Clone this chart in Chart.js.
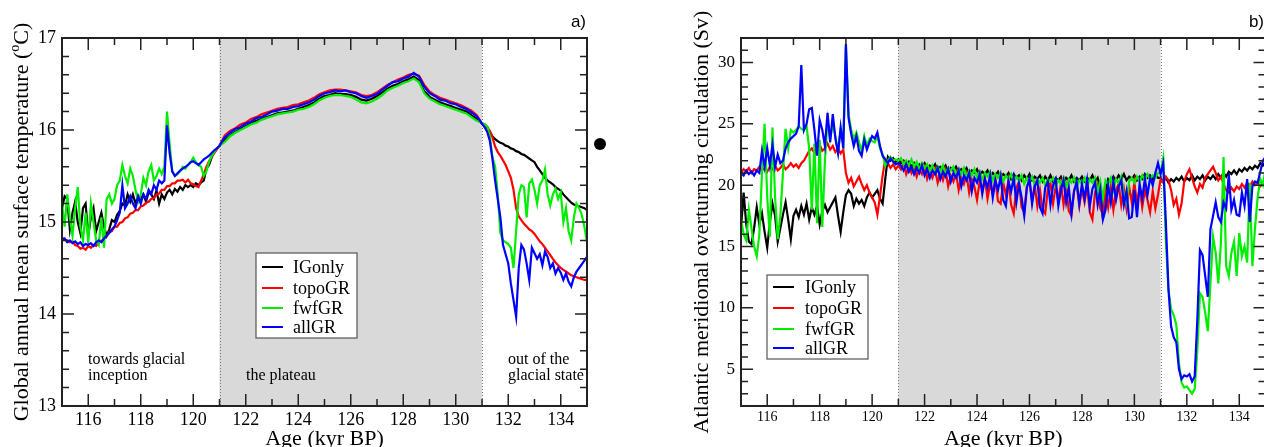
<!DOCTYPE html>
<html>
<head>
<meta charset="utf-8">
<script src="https://cdn.jsdelivr.net/npm/chart.js@4.4.1/dist/chart.umd.min.js"></script>
<style>
  html, body { margin: 0; padding: 0; background: #fff; width: 1264px; height: 447px; overflow: hidden; }
  canvas { position: absolute; top: 0; }
  #temp { left: 0; }
  #amoc { left: 640px; }
</style>
</head>
<body>
<canvas id="temp" width="640" height="447"></canvas>
<canvas id="amoc" width="640" height="447"></canvas>
<script>
const range = (a, b, s) => {
  const n = Math.round((b - a) / s);
  return Array.from({ length: n + 1 }, (_, i) => +(a + i * s).toFixed(2));
};

// ---- panel a) global annual mean surface temperature (degC) ----
// ages: 115-121 every 0.1, 121.2-130.8 every 0.2, 131-135 every 0.1
const tempAge = [...range(115, 121, 0.1), ...range(121.2, 130.8, 0.2), ...range(131, 135, 0.1)];

const tempIGonlyEarly = [
  15.15, 15.28, 15.25, 14.92, 15.1, 15.22, 15.0, 14.88, 15.15, 15.2,
  14.85, 15.05, 15.15, 14.9, 15.0, 15.1, 14.95, 14.85, 14.92, 15.02,
  15.0, 15.08, 15.12, 15.2, 15.18, 15.3, 15.22, 15.3, 15.2, 15.28,
  15.25, 15.3, 15.22, 15.32, 15.3, 15.25, 15.34, 15.2, 15.3, 15.25,
  15.32, 15.35, 15.3, 15.36, 15.33, 15.38, 15.35, 15.4, 15.38, 15.4,
  15.38, 15.42, 15.4, 15.43, 15.45, 15.58, 15.62, 15.7, 15.76, 15.8,
  15.83];
const tempIGonlyPlateau = [
  15.89, 15.94, 15.98, 16.01, 16.04, 16.07, 16.10, 16.12, 16.14, 16.16,
  16.18, 16.19, 16.20, 16.21, 16.23, 16.25, 16.27, 16.30, 16.34, 16.37,
  16.38, 16.40, 16.39, 16.39, 16.38, 16.36, 16.33, 16.32, 16.34, 16.37,
  16.41, 16.45, 16.48, 16.50, 16.53, 16.55, 16.58, 16.54, 16.42, 16.36,
  16.33, 16.30, 16.28, 16.26, 16.24, 16.22, 16.20, 16.16, 16.12];
const tempIGonlyLate = [
  16.07, 16.06, 16.03, 15.98, 15.93, 15.9, 15.88, 15.86, 15.85, 15.83,
  15.82, 15.8, 15.79, 15.77, 15.76, 15.74, 15.73, 15.71, 15.69, 15.67,
  15.65, 15.6, 15.56, 15.52, 15.48, 15.45, 15.43, 15.41, 15.38, 15.36,
  15.34, 15.3, 15.27, 15.24, 15.21, 15.19, 15.18, 15.17, 15.16, 15.15,
  15.13];

const tempTopoEarly = [
  14.83, 14.81, 14.8, 14.78, 14.79, 14.75, 14.74, 14.71, 14.72, 14.7,
  14.74, 14.72, 14.75, 14.74, 14.78, 14.79, 14.83, 14.84, 14.89, 14.9,
  14.95, 14.95, 14.99, 15.0, 15.04, 15.05, 15.09, 15.1, 15.13, 15.13,
  15.17, 15.18, 15.21, 15.22, 15.25, 15.26, 15.3, 15.31, 15.35, 15.35,
  15.39, 15.39, 15.42, 15.42, 15.45, 15.45, 15.46, 15.43, 15.46, 15.42,
  15.41, 15.39, 15.38, 15.45, 15.52, 15.6, 15.66, 15.71, 15.75, 15.79,
  15.83];
const tempTopoPlateau = [
  15.94, 15.99, 16.02, 16.06, 16.08, 16.12, 16.14, 16.17, 16.19, 16.21,
  16.23, 16.24, 16.25, 16.27, 16.28, 16.30, 16.32, 16.35, 16.39, 16.41,
  16.43, 16.44, 16.44, 16.43, 16.42, 16.41, 16.38, 16.37, 16.38, 16.41,
  16.45, 16.49, 16.52, 16.55, 16.57, 16.60, 16.61, 16.59, 16.49, 16.42,
  16.38, 16.35, 16.33, 16.31, 16.29, 16.27, 16.24, 16.21, 16.16];
const tempTopoLate = [
  16.07, 16.05, 16.02, 15.99, 15.92, 15.82, 15.76, 15.72, 15.67, 15.62,
  15.55, 15.48, 15.35, 15.15, 15.06, 15.02, 14.98, 14.95, 14.92, 14.9,
  14.87, 14.83, 14.79, 14.76, 14.72, 14.68, 14.64, 14.6, 14.56, 14.53,
  14.5, 14.48, 14.46, 14.44, 14.42, 14.41, 14.4, 14.39, 14.38, 14.37,
  14.37];

const tempFwfEarly = [
  15.2, 14.95, 15.3, 15.05, 14.85, 15.15, 15.38, 14.95, 14.8, 15.1,
  14.78, 15.2, 15.0, 14.8, 14.75, 15.05, 14.72, 15.25, 15.3, 15.2,
  15.25, 15.4, 15.45, 15.62, 15.5, 15.42, 15.58, 15.5, 15.35, 15.22,
  15.3, 15.48, 15.4, 15.55, 15.62, 15.45, 15.5, 15.58, 15.52, 15.6,
  16.2, 15.85, 15.55, 15.5, 15.52, 15.55, 15.6, 15.58, 15.62, 15.65,
  15.7, 15.65, 15.62, 15.6, 15.5, 15.55, 15.65, 15.72, 15.76, 15.8,
  15.83];
const tempFwfPlateau = [
  15.87, 15.93, 15.97, 16.00, 16.03, 16.06, 16.08, 16.11, 16.13, 16.15,
  16.17, 16.18, 16.19, 16.20, 16.22, 16.23, 16.25, 16.28, 16.32, 16.35,
  16.37, 16.38, 16.38, 16.37, 16.36, 16.33, 16.30, 16.29, 16.31, 16.34,
  16.38, 16.43, 16.46, 16.48, 16.51, 16.53, 16.56, 16.52, 16.40, 16.34,
  16.31, 16.28, 16.26, 16.24, 16.22, 16.20, 16.18, 16.14, 16.10];
const tempFwfLate = [
  16.08, 16.06, 16.04, 15.93, 15.7, 15.6, 15.3, 14.88, 14.8, 14.78,
  14.76, 14.72, 14.5, 14.9, 15.3, 15.4, 15.38, 15.05, 15.42, 15.46,
  15.35, 15.2, 15.4, 15.45, 15.57, 15.3, 15.18, 15.3, 15.36, 15.25,
  15.32, 15.0, 15.15, 14.9, 14.8, 15.05, 15.2, 15.15, 15.08, 14.95,
  14.78];

const tempAllEarly = [
  14.8, 14.82, 14.78, 14.8, 14.77, 14.79, 14.76, 14.78, 14.74, 14.76,
  14.75, 14.77, 14.74, 14.78, 14.8, 14.78, 14.82, 14.85, 14.88, 14.92,
  14.95, 15.02, 15.1, 15.4, 15.15, 15.2, 15.28, 15.2, 15.15, 15.28,
  15.2, 15.3, 15.25, 15.35, 15.3, 15.4, 15.35, 15.45, 15.42, 15.45,
  16.05, 15.75, 15.55, 15.5, 15.53, 15.56, 15.58, 15.6, 15.62, 15.65,
  15.66, 15.64, 15.62, 15.65, 15.68, 15.7, 15.72, 15.75, 15.78, 15.8,
  15.83];
const tempAllPlateau = [
  15.92, 15.97, 16.01, 16.03, 16.07, 16.09, 16.13, 16.14, 16.17, 16.20,
  16.21, 16.23, 16.23, 16.25, 16.26, 16.28, 16.30, 16.33, 16.37, 16.40,
  16.41, 16.43, 16.42, 16.43, 16.41, 16.40, 16.37, 16.35, 16.37, 16.39,
  16.44, 16.48, 16.52, 16.53, 16.56, 16.58, 16.62, 16.58, 16.47, 16.40,
  16.37, 16.33, 16.32, 16.29, 16.28, 16.25, 16.23, 16.19, 16.15];
const tempAllLate = [
  16.07, 16.03, 15.98, 15.88, 15.68, 15.45, 15.25, 15.05, 14.75, 14.65,
  14.55, 14.33, 14.15, 13.97, 14.5, 14.75, 14.7, 14.55, 14.37, 14.72,
  14.66, 14.6, 14.65, 14.53, 14.68, 14.62, 14.5, 14.55, 14.44, 14.5,
  14.45, 14.37, 14.44, 14.35, 14.3, 14.4, 14.46, 14.5, 14.54, 14.58,
  14.62];

// ---- panel b) AMOC strength (Sv), ages 115-135 every 0.1 ----
const amocAge = range(115, 135, 0.1);

const amocIGonlyEarly = [
  16.5, 19.4, 16.8, 15.4, 15.2, 16.5, 18.2, 16.8, 17.7, 16.2,
  14.9, 17.0, 18.5, 17.5, 15.4, 16.5, 17.6, 18.6, 17.2, 15.6,
  17.5, 18.0, 17.4, 18.3, 17.6, 18.5, 17.2, 18.2, 17.6, 18.3,
  16.8, 17.9, 18.4, 17.8, 18.2, 18.6, 19.0, 17.5, 16.2, 17.8,
  19.2, 19.6, 19.3, 18.3, 18.9, 18.5, 18.8, 18.3, 19.0, 19.4,
  19.0, 19.3, 19.6, 18.9, 18.5, 20.5, 22.3, 22.0, 22.2, 21.9,
  22.1];
const amocIGonlyPlateau = [
  21.8, 22.0, 21.6, 21.9, 21.5, 21.8, 21.4, 21.7, 21.5, 21.8,
  21.3, 21.6, 21.4, 21.7, 21.2, 21.5, 21.3, 21.6, 21.1, 21.4,
  21.2, 21.5, 21.0, 21.3, 21.1, 21.4, 20.9, 21.2, 21.0, 21.3,
  20.8, 21.1, 20.9, 21.2, 20.7, 21.0, 20.8, 21.1, 20.6, 20.9,
  20.7, 21.0, 20.5, 20.9, 20.6, 20.8, 20.4, 20.8, 20.5, 20.9,
  20.4, 20.7, 20.5, 20.8, 20.3, 20.7, 20.4, 20.8, 20.3, 20.6,
  20.4, 20.7, 20.2, 20.6, 20.4, 20.8, 20.3, 20.6, 20.4, 20.7,
  20.3, 20.6, 20.4, 20.8, 20.3, 20.6, 19.8, 17.3, 19.5, 20.5,
  20.3, 20.7, 20.4, 20.8, 20.5, 20.9, 20.4, 20.7, 20.5, 20.8,
  20.4, 20.7, 20.5, 20.9, 20.6, 20.8, 20.5, 20.9, 20.6];
const amocIGonlyLate = [
  20.6, 20.3, 20.6, 20.2, 20.5, 20.3, 20.6, 20.4, 20.7, 20.3,
  20.6, 20.4, 20.8, 20.4, 20.7, 20.5, 20.8, 20.4, 20.7, 20.5,
  20.8, 20.5, 20.9, 20.6, 21.0, 20.7, 21.1, 20.9, 21.2, 20.9,
  21.3, 21.1, 21.4, 21.2, 21.5, 21.3, 21.6, 21.4, 21.8, 21.6,
  21.9];

const amocTopoEarly = [
  21.0, 21.3, 21.1, 21.4, 21.0, 21.3, 21.2, 21.5, 21.2, 21.4,
  21.1, 21.5, 21.3, 21.6, 21.2, 21.4, 21.7, 21.3, 21.5, 21.8,
  21.5, 21.7, 21.4, 21.8, 22.0, 22.4, 22.8, 23.0, 22.6, 23.1,
  23.3, 22.8, 23.0, 23.4, 22.9, 23.2, 22.7, 23.0, 22.6, 22.9,
  21.0, 20.2, 20.6, 19.9, 20.3, 20.7, 20.1, 19.6, 20.0, 19.4,
  19.0, 18.6, 17.6, 19.1, 20.8, 22.1, 21.8, 21.4, 21.7, 21.3,
  21.6];
const amocTopoPlateau = [
  21.3, 21.8, 20.9, 21.5, 21.0, 21.6, 20.7, 21.3, 20.9, 21.5,
  20.5, 21.1, 20.6, 21.3, 20.2, 21.0, 20.4, 21.2, 19.9, 20.8,
  20.3, 21.0, 19.6, 20.6, 20.1, 20.9, 19.4, 20.5, 19.9, 18.8,
  20.3, 19.6, 20.6, 18.9, 20.1, 19.3, 20.5, 18.7, 18.5, 20.2,
  19.2, 20.4, 18.4, 17.7, 19.8, 20.3, 18.2, 17.8, 19.9, 20.4,
  18.7, 20.0, 18.3, 19.6, 18.0, 17.7, 19.7, 20.2, 18.5, 19.9,
  18.8, 20.1, 18.4, 19.8, 17.9, 17.5, 19.6, 20.0, 18.3, 19.7,
  18.6, 19.9, 17.8, 17.2, 19.4, 20.0, 18.1, 17.6, 19.5, 18.2,
  19.8, 18.0, 19.6, 20.1, 18.4, 19.7, 18.1, 19.9, 18.6, 20.2,
  18.5, 19.8, 18.2, 19.6, 18.8, 17.8, 19.5, 18.1, 19.2];
const amocTopoLate = [
  20.5, 20.2, 20.7, 20.4, 19.6, 18.4, 18.9, 17.6, 18.5, 20.3,
  20.9, 21.3, 20.6, 19.9, 19.4, 20.1, 19.8, 20.6, 20.9, 21.2,
  21.5, 21.0, 20.4, 20.7, 20.1, 19.6, 19.4, 19.8, 19.5, 19.9,
  19.7, 20.1, 19.8, 20.2, 19.9, 20.3, 20.0, 20.2, 19.9, 20.1,
  19.9];

const amocFwfEarly = [
  17.2, 16.0, 15.5, 18.0, 16.5, 15.0, 14.2, 16.0, 21.0, 25.0,
  19.0, 15.8, 24.7, 19.0, 15.6, 17.5, 21.0, 24.6, 23.0, 24.5,
  24.3, 24.5, 24.8, 24.6, 24.5, 24.8, 23.0, 18.0, 23.4, 16.9,
  23.7, 16.6, 22.0, 25.3, 23.8, 25.0, 24.0, 22.8, 24.5, 23.5,
  31.3, 25.8, 24.5, 23.8, 24.3, 23.5, 22.8, 24.0, 23.2, 23.8,
  23.6, 23.5, 24.0, 23.0, 22.5, 21.6, 22.0, 22.3, 22.0, 22.1,
  22.0];
const amocFwfPlateau = [
  22.2, 21.7, 22.0, 21.6, 22.1, 21.5, 21.9, 21.3, 21.8, 21.4,
  21.7, 21.2, 21.6, 21.0, 21.5, 21.1, 21.6, 20.9, 21.4, 21.2,
  21.5, 20.8, 21.3, 20.9, 21.4, 20.7, 21.2, 20.8, 21.3, 20.6,
  21.1, 20.5, 21.0, 20.7, 21.1, 20.4, 20.9, 20.6, 21.0, 20.3,
  20.8, 20.5, 20.9, 20.2, 20.7, 20.4, 20.8, 20.1, 20.6, 20.3,
  20.7, 20.0, 20.5, 20.2, 20.6, 20.0, 20.5, 20.3, 20.6, 19.9,
  20.4, 20.1, 20.6, 19.9, 20.5, 20.2, 20.6, 19.8, 20.4, 20.1,
  20.6, 19.9, 20.5, 20.2, 20.6, 19.4, 20.3, 18.9, 20.4, 20.1,
  20.6, 19.6, 20.5, 20.2, 20.7, 19.1, 18.5, 20.3, 20.6, 20.2,
  20.7, 20.3, 20.8, 20.4, 20.9, 20.5, 20.8, 20.6, 21.0];
const amocFwfLate = [
  21.0, 22.2, 15.5, 11.5, 9.9, 9.4, 8.6, 5.5, 3.9, 3.5,
  3.6, 3.3, 3.0, 3.4, 6.5, 11.2, 10.9, 9.6, 8.1, 12.0,
  15.8, 14.5, 12.0, 15.3, 22.3, 13.4, 12.6, 14.5, 15.4, 12.6,
  16.1, 14.2, 15.0, 13.7, 20.2, 13.4, 16.5, 19.0, 20.5, 20.0,
  21.3];

const amocAllEarly = [
  21.0, 20.8, 21.2, 20.9, 21.1, 20.8, 21.2, 21.0, 22.8, 21.5,
  23.0, 21.6, 23.3, 21.5, 22.5, 21.8, 22.0, 23.0, 23.5, 23.8,
  24.0, 24.2, 24.8, 29.8, 24.5, 25.0, 26.2, 26.3, 24.5, 22.4,
  25.3, 24.5, 23.2, 25.9, 23.5, 25.8, 23.8, 22.6, 24.7, 23.0,
  31.5, 25.5, 24.2, 23.2, 24.0, 22.8, 22.4, 23.7, 22.9, 23.5,
  24.0, 23.8, 24.3, 23.2, 22.4, 22.1, 21.8, 22.2, 21.9, 21.7,
  21.8];
const amocAllPlateau = [
  21.6, 21.2, 21.7, 21.1, 21.5, 20.9, 21.4, 21.0, 21.6, 20.8,
  21.3, 20.6, 21.2, 20.9, 21.4, 20.5, 21.1, 20.7, 21.3, 20.3,
  21.0, 20.6, 21.2, 19.9, 20.8, 20.4, 21.0, 19.5, 20.6, 20.2,
  20.9, 19.3, 20.5, 19.8, 20.8, 19.0, 20.4, 19.6, 20.7, 18.8,
  18.3, 20.3, 19.5, 20.6, 18.6, 20.1, 19.0, 17.5, 19.8, 20.5,
  18.5, 19.9, 20.4, 18.2, 17.7, 19.8, 20.3, 18.4, 20.0, 20.5,
  18.3, 19.6, 20.4, 18.6, 19.8, 17.7, 19.5, 20.3, 18.5, 20.1,
  18.9, 20.4, 18.3, 19.7, 20.2, 18.4, 19.6, 17.2, 18.0, 20.0,
  18.6, 20.3, 18.8, 19.9, 20.4, 18.4, 19.5, 17.3, 17.4, 19.6,
  17.4, 20.1, 18.9, 20.5, 19.2, 20.6, 20.0, 21.0, 21.8];
const amocAllLate = [
  20.9, 21.8, 17.0, 11.5, 8.5, 7.6, 7.2, 5.0, 4.2, 4.5,
  4.4, 4.6, 4.0, 4.4, 9.0, 14.7, 14.3, 12.6, 10.9, 16.4,
  17.5, 18.6, 17.4, 17.0, 18.6, 18.1, 20.9, 18.0, 18.8, 17.6,
  17.5, 19.4, 18.3, 20.5, 17.0, 19.9, 20.3, 20.2, 21.1, 22.0,
  22.3];

const seriesNames = ['IGonly', 'topoGR', 'fwfGR', 'allGR'];
const seriesColors = ['#000000', '#ff0000', '#00ee00', '#0000ff'];

const tempSeries = [
  [...tempIGonlyEarly, ...tempIGonlyPlateau, ...tempIGonlyLate],
  [...tempTopoEarly, ...tempTopoPlateau, ...tempTopoLate],
  [...tempFwfEarly, ...tempFwfPlateau, ...tempFwfLate],
  [...tempAllEarly, ...tempAllPlateau, ...tempAllLate]
];
const amocSeries = [
  [...amocIGonlyEarly, ...amocIGonlyPlateau, ...amocIGonlyLate],
  [...amocTopoEarly, ...amocTopoPlateau, ...amocTopoLate],
  [...amocFwfEarly, ...amocFwfPlateau, ...amocFwfLate],
  [...amocAllEarly, ...amocAllPlateau, ...amocAllLate]
];

const SERIF = '"Liberation Serif", "Times New Roman", serif';

function makeDatasets(ages, series) {
  return series.map((vals, i) => ({
    label: seriesNames[i],
    data: ages.map((a, j) => ({ x: a, y: vals[j] })),
    borderColor: seriesColors[i],
    borderWidth: 2.2,
    pointRadius: 0,
    tension: 0,
    order: 3 - i
  }));
}

// shading, frame, inward ticks, legend box and texts
function decor(p) {
  return {
    id: 'decor',
    beforeDatasetsDraw(chart) {
      const { ctx, chartArea: a, scales: { x } } = chart;
      const x0 = x.getPixelForValue(121), x1 = x.getPixelForValue(131);
      ctx.save();
      ctx.fillStyle = '#d9d9d9';
      ctx.fillRect(x0, a.top, x1 - x0, a.bottom - a.top);
      ctx.strokeStyle = '#777';
      ctx.lineWidth = 1;
      ctx.setLineDash([1, 2]);
      for (const px of [x0, x1]) {
        ctx.beginPath();
        ctx.moveTo(Math.round(px) + 0.5, a.top);
        ctx.lineTo(Math.round(px) + 0.5, a.bottom);
        ctx.stroke();
      }
      ctx.restore();
    },
    afterDatasetsDraw(chart) {
      const { ctx, chartArea: a, scales: { x, y } } = chart;
      ctx.save();
      ctx.strokeStyle = '#222';
      ctx.lineWidth = 1.5;
      const isMajor = (v, m) => Math.abs(v / m - Math.round(v / m)) < 1e-6;
      let n = Math.round((x.max - x.min) / p.xMinor);
      for (let i = 0; i <= n; i++) {
        const v = x.min + i * p.xMinor;
        const px = x.getPixelForValue(v), len = isMajor(v, p.xMajor) ? 12 : 7;
        ctx.beginPath();
        ctx.moveTo(px, a.bottom); ctx.lineTo(px, a.bottom - len);
        ctx.moveTo(px, a.top); ctx.lineTo(px, a.top + len);
        ctx.stroke();
      }
      n = Math.round((y.max - y.min) / p.yMinor);
      for (let i = 0; i <= n; i++) {
        const v = y.min + i * p.yMinor;
        const py = y.getPixelForValue(v), len = isMajor(v, p.yMajor) ? 12 : 7;
        ctx.beginPath();
        ctx.moveTo(a.left, py); ctx.lineTo(a.left + len, py);
        ctx.moveTo(a.right, py); ctx.lineTo(a.right - len, py);
        ctx.stroke();
      }
      ctx.lineWidth = 2;
      ctx.strokeRect(a.left, a.top, a.right - a.left, a.bottom - a.top);

      // legend
      const L = p.legend;
      ctx.fillStyle = '#fff';
      ctx.fillRect(L.x, L.y, L.w, L.h);
      ctx.strokeStyle = '#555';
      ctx.lineWidth = 1.2;
      ctx.strokeRect(L.x, L.y, L.w, L.h);
      ctx.font = '18px ' + SERIF;
      ctx.textAlign = 'left';
      ctx.textBaseline = 'alphabetic';
      seriesNames.forEach((name, i) => {
        const ly = L.rows[i];
        ctx.strokeStyle = seriesColors[i];
        ctx.lineWidth = 2;
        ctx.beginPath();
        ctx.moveTo(L.x0, ly); ctx.lineTo(L.x1, ly);
        ctx.stroke();
        ctx.fillStyle = '#000';
        ctx.fillText(name, L.tx, ly + 6);
      });
      ctx.restore();
    },
    afterDraw(chart) {
      const { ctx, chartArea: a } = chart;
      ctx.save();
      ctx.fillStyle = '#000';
      ctx.textBaseline = 'alphabetic';
      ctx.font = '22px ' + SERIF;
      ctx.textAlign = 'center';
      ctx.fillText('Age (kyr BP)', (a.left + a.right) / 2, 445);
      ctx.font = '16px ' + SERIF;
      ctx.textAlign = 'left';
      for (const t of p.notes) ctx.fillText(t[0], t[1], t[2]);
      ctx.font = '17px "Liberation Sans", Arial, sans-serif';
      ctx.textAlign = 'right';
      ctx.fillText(p.tag[0], p.tag[1], 27);
      ctx.restore();
      p.extra(ctx, a);
    }
  };
}

function makeChart(id, ages, series, yMin, yMax, yLabel, xFont, yFont, yWidth, padRight, p) {
  return new Chart(document.getElementById(id), {
    type: 'line',
    data: { datasets: makeDatasets(ages, series) },
    options: {
      responsive: false,
      animation: false,
      events: [],
      layout: { padding: { top: 38, right: padRight, left: 0, bottom: 0 } },
      plugins: { legend: { display: false }, tooltip: { enabled: false } },
      scales: {
        x: {
          type: 'linear', min: 115, max: 135,
          grid: { display: false, drawTicks: false }, border: { display: false },
          ticks: {
            stepSize: 1, autoSkip: false, maxRotation: 0, padding: 3, color: '#000',
            font: { family: SERIF, size: xFont },
            callback: v => (v % 2 === 0 ? String(v) : '')
          },
          afterFit: s => { s.height = 41; }
        },
        y: {
          min: yMin, max: yMax,
          grid: { display: false, drawTicks: false }, border: { display: false },
          ticks: {
            stepSize: 1, autoSkip: false, padding: 6, color: '#000',
            font: { family: SERIF, size: yFont },
            callback: yLabel
          },
          afterFit: s => { s.width = yWidth; }
        }
      }
    },
    plugins: [decor(p)]
  });
}

makeChart('temp', tempAge, tempSeries, 13, 17, v => String(v), 18, 18, 62, 53, {
  xMinor: 1, xMajor: 2, yMinor: 0.2, yMajor: 1,
  legend: { x: 256, y: 253, w: 101, h: 85, rows: [267, 288, 308, 327], x0: 262, x1: 283, tx: 293 },
  notes: [['towards glacial', 88, 364], ['inception', 88, 380], ['the plateau', 246, 380],
          ['out of the', 508, 364], ['glacial state', 508, 380]],
  tag: ['a)', 586],
  extra(ctx) {
    const big = '22px ' + SERIF, small = '14px ' + SERIF;
    const p1 = 'Global annual mean surface temperature (', p2 = 'o', p3 = 'C)';
    ctx.save();
    ctx.font = big;
    const w1 = ctx.measureText(p1).width, w3 = ctx.measureText(p3).width;
    ctx.font = small;
    const w2 = ctx.measureText(p2).width;
    ctx.translate(28, 222);
    ctx.rotate(-Math.PI / 2);
    ctx.fillStyle = '#000';
    ctx.textAlign = 'left';
    ctx.textBaseline = 'alphabetic';
    let tx = -(w1 + w2 + w3) / 2;
    ctx.font = big; ctx.fillText(p1, tx, 0); tx += w1;
    ctx.font = small; ctx.fillText(p2, tx, -9); tx += w2;
    ctx.font = big; ctx.fillText(p3, tx, 0);
    ctx.restore();
    ctx.save();
    ctx.fillStyle = '#000';
    ctx.beginPath();
    ctx.arc(600, 144, 6, 0, Math.PI * 2);
    ctx.fill();
    ctx.restore();
  }
});

makeChart('amoc', amocAge, amocSeries, 2, 32, v => (v % 5 === 0 ? String(v) : ''), 14, 17, 101, 14.5, {
  xMinor: 1, xMajor: 2, yMinor: 1, yMajor: 5,
  legend: { x: 127, y: 275, w: 101, h: 84, rows: [287, 308, 329, 348], x0: 133, x1: 154, tx: 165 },
  notes: [],
  tag: ['b)', 624],
  extra(ctx) {
    ctx.save();
    ctx.translate(68, 222);
    ctx.rotate(-Math.PI / 2);
    ctx.fillStyle = '#000';
    ctx.font = '22px ' + SERIF;
    ctx.textAlign = 'center';
    ctx.textBaseline = 'alphabetic';
    ctx.fillText('Atlantic meridional overturning circulation (Sv)', 0, 0);
    ctx.restore();
  }
});
</script>
</body>
</html>
